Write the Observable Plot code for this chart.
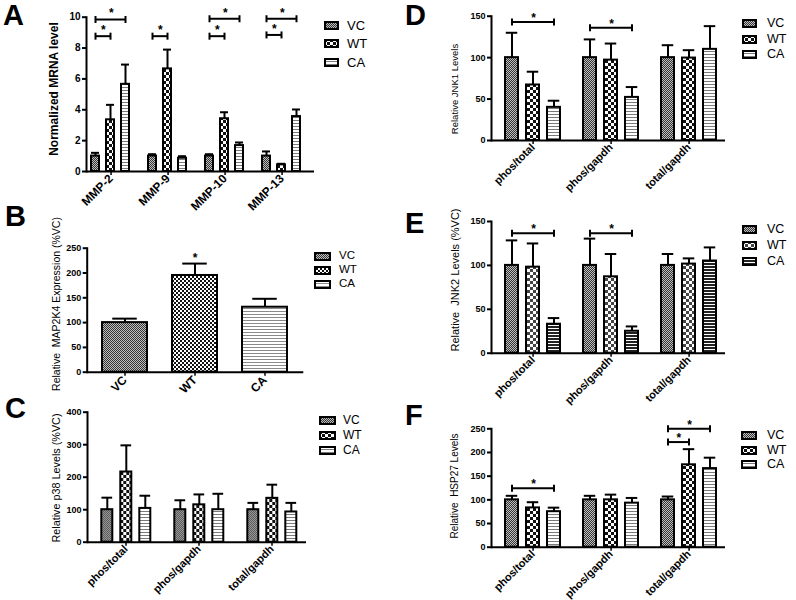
<!DOCTYPE html>
<html><head><meta charset="utf-8">
<script src="https://cdn.jsdelivr.net/npm/d3@7"></script>
<script src="https://cdn.jsdelivr.net/npm/@observablehq/plot@0.6"></script>
<style>
body{margin:0;background:#fff;}
#fig{position:relative;width:796px;height:600px;overflow:hidden;font-family:"Liberation Sans",Arial,sans-serif;color:#000;}
.panel{position:absolute;}
.letter{position:absolute;font-weight:bold;font-size:29px;line-height:1;}
.ytitle{position:absolute;white-space:pre;line-height:1;transform:translate(-50%,-50%) rotate(-90deg);}
.ltext{position:absolute;line-height:1;transform:translateY(-50%);white-space:nowrap;}
</style></head>
<body>
<svg width="0" height="0" style="position:absolute">
<defs>
<pattern id="pVC" width="2" height="2" patternUnits="userSpaceOnUse"><rect width="2" height="2" fill="#c0c0c0"/><rect width="1" height="1" fill="#333"/><rect x="1" y="1" width="1" height="1" fill="#333"/></pattern>
<pattern id="pWT" width="6" height="6" patternUnits="userSpaceOnUse"><rect width="6" height="6" fill="#fff"/><rect width="3" height="3" fill="#111"/><rect x="3" y="3" width="3" height="3" fill="#111"/></pattern>
<pattern id="pCA" width="3" height="3" patternUnits="userSpaceOnUse"><rect width="3" height="3" fill="#fff"/><rect width="3" height="1" fill="#7a7a7a"/></pattern>
<pattern id="pWTb" width="4" height="4" patternUnits="userSpaceOnUse"><rect width="4" height="4" fill="#fff"/><rect width="2" height="2" fill="#111"/><rect x="2" y="2" width="2" height="2" fill="#111"/></pattern>
<pattern id="pCAb" width="3" height="3" patternUnits="userSpaceOnUse"><rect width="3" height="3" fill="#fff"/><rect width="3" height="1" fill="#8a8a8a"/></pattern>
<pattern id="pWTe" width="6" height="6" patternUnits="userSpaceOnUse"><rect width="6" height="6" fill="#fff"/><rect width="3" height="3" fill="#444"/><rect x="3" y="3" width="3" height="3" fill="#444"/></pattern>
<pattern id="pCAe" width="3" height="3" patternUnits="userSpaceOnUse"><rect width="3" height="3" fill="#fff"/><rect width="3" height="2" fill="#222"/></pattern>
</defs></svg>
<div id="fig"></div>
<script>
const series = ["VC", "WT", "CA"];

// ---- Panel A: MMP mRNA ----
const A_groups = ["MMP-2", "MMP-9", "MMP-10", "MMP-13"];
const A_VC = [1.0, 1.0, 1.0, 1.0];
const A_WT = [3.35, 6.65, 3.42, 0.43];
const A_CA = [5.65, 0.86, 1.68, 3.56];
const A_VC_sem = [0.21, 0.12, 0.12, 0.30];
const A_WT_sem = [0.97, 1.25, 0.42, 0.07];
const A_CA_sem = [1.28, 0.13, 0.20, 0.46];
const A_sig_group = ["MMP-2", "MMP-2", "MMP-9", "MMP-10", "MMP-10", "MMP-13", "MMP-13"];
const A_sig_from = ["VC", "VC", "VC", "VC", "VC", "VC", "VC"];
const A_sig_to = ["CA", "WT", "WT", "CA", "WT", "CA", "WT"];
const A_sig_y = [9.85, 8.77, 8.77, 9.9, 8.77, 9.9, 8.85];
const A_yticks = [0, 2, 4, 6, 8, 10];

// ---- Panel B: MAP2K4 ----
const B_values = [100, 195, 131];   // VC, WT, CA
const B_sem = [8, 24, 17];
const B_sig_series = ["WT"];
const B_yticks = [0, 50, 100, 150, 200, 250];

// ---- Panel C: p38 ----
const C_groups = ["phos/total", "phos/gapdh", "total/gapdh"];
const C_VC = [100, 100, 100];
const C_WT = [216, 115, 135];
const C_CA = [104, 100, 93];
const C_VC_sem = [37, 29, 21];
const C_WT_sem = [82, 32, 42];
const C_CA_sem = [39, 49, 28];
const C_yticks = [0, 100, 200, 300, 400];

// ---- Panel D: JNK1 ----
const D_groups = ["phos/total", "phos/gapdh", "total/gapdh"];
const D_VC = [100, 100, 100];
const D_WT = [67, 97, 99.5];
const D_CA = [40, 52, 110];
const D_VC_sem = [30, 22, 15];
const D_WT_sem = [16, 20, 9.5];
const D_CA_sem = [8, 12.5, 28];
const D_sig_group = ["phos/total", "phos/gapdh"];
const D_sig_from = ["VC", "VC"];
const D_sig_to = ["CA", "CA"];
const D_sig_y = [143, 136];
const D_yticks = [0, 50, 100, 150];

// ---- Panel E: JNK2 ----
const E_groups = ["phos/total", "phos/gapdh", "total/gapdh"];
const E_VC = [100, 100, 100];
const E_WT = [98, 87, 101.5];
const E_CA = [33, 25, 105];
const E_VC_sem = [28.5, 30.5, 13];
const E_WT_sem = [27, 26, 6.5];
const E_CA_sem = [7, 5.5, 15.5];
const E_sig_group = ["phos/total", "phos/gapdh"];
const E_sig_from = ["VC", "VC"];
const E_sig_to = ["CA", "CA"];
const E_sig_y = [136.7, 136.7];
const E_yticks = [0, 50, 100, 150];

// ---- Panel F: HSP27 ----
const F_groups = ["phos/total", "phos/gapdh", "total/gapdh"];
const F_VC = [100, 100, 100];
const F_WT = [83, 100, 174];
const F_CA = [75, 93, 166];
const F_VC_sem = [8.5, 8.5, 7];
const F_WT_sem = [12, 11, 33];
const F_CA_sem = [8.5, 11, 23];
const F_sig_group = ["phos/total", "total/gapdh", "total/gapdh"];
const F_sig_from = ["VC", "VC", "VC"];
const F_sig_to = ["CA", "CA", "WT"];
const F_sig_y = [124.6, 250, 222];
const F_yticks = [0, 50, 100, 150, 200, 250];

// ---------- helpers ----------
function makeRows(groups, VC, WT, CA, VCs, WTs, CAs) {
  const v = {VC, WT, CA}, s = {VC: VCs, WT: WTs, CA: CAs};
  return groups.flatMap((g, i) => series.map(k => ({group: g, series: k, value: v[k][i], sem: s[k][i]})));
}
function makeSig(groups, from, to, y) {
  return groups.map((g, i) => ({group: g, from: from[i], to: to[i], y: y[i]}));
}
const vTick = {draw(ctx, size) { const r = Math.sqrt(size / Math.PI); ctx.moveTo(0, -r); ctx.lineTo(0, r); }};
const fig = document.getElementById("fig");

function panel(cfg) {
  const {rows, groups, sig, left, top, width, height, x0, x1, y0px, y1px, ymax, yticks,
         barRect, step, firstCenter, capW, fs, xfs, starDy, starFs, pats} = cfg;
  const nG = groups ? groups.length : 1;
  const fw = (x1 - x0) / nG;
  const n = series.length;
  const pI = 1 - barRect / step;
  const pO = (fw / step - (n - pI)) / 2;
  const leftover = fw - step * (n - pI);
  const align = (firstCenter - barRect / 2) / leftover;
  const tickDx = firstCenter + step - fw / 2;
  const capInset = Math.max(0, (barRect - capW) / 2);
  const fxo = groups ? {fx: "group"} : {};
  const marks = [];
  for (const s of series) {
    marks.push(Plot.barY(rows.filter(d => d.series === s), {...fxo, x: "series", y: "value",
      fill: `url(#${pats[s]})`, stroke: "black", strokeWidth: 2}));
  }
  marks.push(Plot.ruleX(rows, {...fxo, x: "series", y1: "value", y2: d => d.value + d.sem, stroke: "black", strokeWidth: 2}));
  marks.push(Plot.tickY(rows, {...fxo, x: "series", y: d => d.value + d.sem, stroke: "black", strokeWidth: 2,
    insetLeft: capInset, insetRight: capInset}));
  if (sig && sig.length) {
    marks.push(Plot.link(sig, {...fxo, x1: "from", x2: "to", y1: "y", y2: "y", stroke: "black", strokeWidth: 2}));
    const ends = sig.flatMap(d => [{group: d.group, series: d.from, y: d.y}, {group: d.group, series: d.to, y: d.y}]);
    marks.push(Plot.dot(ends, {...fxo, x: "series", y: "y", symbol: vTick, r: 3.5, stroke: "black", strokeWidth: 2, fill: "none"}));
    for (const span of [1, 2]) {
      const sub = sig.filter(d => series.indexOf(d.to) - series.indexOf(d.from) === span);
      if (sub.length) marks.push(Plot.text(sub, {...fxo, x: "from", y: "y", text: () => "*",
        dx: span * step / 2, dy: starDy, fontSize: starFs, fontWeight: "bold"}));
    }
  }
  if (cfg.starSeries) {
    const sub = rows.filter(d => cfg.starSeries.includes(d.series));
    marks.push(Plot.text(sub, {x: "series", y: d => d.value + d.sem, text: () => "*", dy: starDy, fontSize: starFs, fontWeight: "bold"}));
  }
  marks.push(Plot.ruleY([0], {stroke: "black", strokeWidth: 2}));
  marks.push(Plot.frame(groups ? {anchor: "left", stroke: "black", strokeWidth: 2, facetAnchor: "left"} : {anchor: "left", stroke: "black", strokeWidth: 2}));
  marks.push(Plot.axisY({ticks: yticks, tickSize: 4, tickPadding: 2, strokeWidth: 2, fontWeight: "bold", fontSize: fs, label: null}));
  if (groups) {
    marks.push(Plot.axisFx({anchor: "bottom", tickRotate: -45, tickSize: 4, tickPadding: 1, strokeWidth: 1.5, dx: tickDx,
      label: null, fontWeight: "bold", fontSize: xfs}));
  } else {
    marks.push(Plot.axisX({anchor: "bottom", tickRotate: -45, tickSize: 4, tickPadding: 2, strokeWidth: 1.5,
      label: null, fontWeight: "bold", fontSize: xfs}));
  }
  const opts = {
    width, height,
    marginLeft: x0 - left, marginRight: left + width - x1,
    marginTop: y1px - top, marginBottom: top + height - y0px,
    x: {domain: series, paddingInner: pI, paddingOuter: pO, align, axis: groups ? null : undefined},
    y: {domain: [0, ymax]},
    style: {background: "transparent", fontFamily: "'Liberation Sans', Arial, sans-serif", fontSize: fs + "px", color: "black", overflow: "visible"},
    marks
  };
  if (groups) {
    opts.fx = {domain: groups, padding: 0};
    opts.facet = {marginTop: 0, marginBottom: 0, marginLeft: 0, marginRight: 0};
  }
  const node = Plot.plot(opts);
  const d = document.createElement("div");
  d.className = "panel";
  d.style.left = left + "px"; d.style.top = top + "px"; d.style.width = width + "px"; d.style.height = height + "px";
  d.appendChild(node);
  fig.appendChild(d);
}

function legend(left, rowsY, sw, sh, textLeft, fs, pats) {
  series.forEach((s, i) => {
    const svg = d3.create("svg").attr("width", sw + 2).attr("height", sh + 2)
      .style("position", "absolute").style("left", (left - 1) + "px").style("top", (rowsY[i] - sh / 2 - 1) + "px");
    svg.append("rect").attr("x", 1).attr("y", 1).attr("width", sw).attr("height", sh)
      .attr("fill", `url(#${pats[s]})`).attr("stroke", "black").attr("stroke-width", 2);
    fig.appendChild(svg.node());
    const t = document.createElement("div");
    t.className = "ltext"; t.textContent = s;
    t.style.left = textLeft + "px"; t.style.top = rowsY[i] + "px"; t.style.fontSize = fs + "px";
    fig.appendChild(t);
  });
}
function letter(ch, left, top) {
  const d = document.createElement("div"); d.className = "letter"; d.textContent = ch;
  d.style.left = left + "px"; d.style.top = Math.max(1, top - 4) + "px"; fig.appendChild(d);
}
function ytitle(txt, cx, cy, fs, bold) {
  const d = document.createElement("div"); d.className = "ytitle"; d.textContent = txt;
  d.style.left = cx + "px"; d.style.top = cy + "px"; d.style.fontSize = fs + "px";
  if (bold) d.style.fontWeight = "bold";
  fig.appendChild(d);
}

const patStd = {VC: "pVC", WT: "pWT", CA: "pCA"};

// A
panel({rows: makeRows(A_groups, A_VC, A_WT, A_CA, A_VC_sem, A_WT_sem, A_CA_sem), groups: A_groups,
  sig: makeSig(A_sig_group, A_sig_from, A_sig_to, A_sig_y),
  left: 0, top: 0, width: 320, height: 210, x0: 85, x1: 314, y0px: 171, y1px: 16.7, ymax: 10, yticks: A_yticks,
  barRect: 9, step: 15.9, firstCenter: 8.8, capW: 10, fs: 10, xfs: 12, starDy: -6, starFs: 12, pats: patStd});
// B
panel({rows: series.map((s, i) => ({series: s, value: B_values[i], sem: B_sem[i]})), groups: null, starSeries: B_sig_series,
  left: 0, top: 200, width: 320, height: 200, x0: 86.7, x1: 303.3, y0px: 371.7, y1px: 247.7, ymax: 250, yticks: B_yticks,
  barRect: 45.5, step: 70.9, firstCenter: 37, capW: 25, fs: 9, xfs: 12, starDy: -5, starFs: 12, pats: {VC: "pVC", WT: "pWTb", CA: "pCAb"}});
// C
panel({rows: makeRows(C_groups, C_VC, C_WT, C_CA, C_VC_sem, C_WT_sem, C_CA_sem), groups: C_groups, sig: [],
  left: 0, top: 400, width: 320, height: 200, x0: 86.7, x1: 305.7, y0px: 541.7, y1px: 411.7, ymax: 400, yticks: C_yticks,
  barRect: 11.3, step: 19.5, firstCenter: 19, capW: 11, fs: 9, xfs: 11, starDy: -5, starFs: 12, pats: patStd});
// D
panel({rows: makeRows(D_groups, D_VC, D_WT, D_CA, D_VC_sem, D_WT_sem, D_CA_sem), groups: D_groups,
  sig: makeSig(D_sig_group, D_sig_from, D_sig_to, D_sig_y),
  left: 400, top: 0, width: 330, height: 200, x0: 490, x1: 726.5, y0px: 140, y1px: 15.7, ymax: 150, yticks: D_yticks,
  barRect: 13.5, step: 21.5, firstCenter: 20.5, capW: 12, fs: 9, xfs: 11, starDy: -4, starFs: 12, pats: patStd});
// E
panel({rows: makeRows(E_groups, E_VC, E_WT, E_CA, E_VC_sem, E_WT_sem, E_CA_sem), groups: E_groups,
  sig: makeSig(E_sig_group, E_sig_from, E_sig_to, E_sig_y),
  left: 400, top: 200, width: 330, height: 200, x0: 490, x1: 726.5, y0px: 352.7, y1px: 221, ymax: 150, yticks: E_yticks,
  barRect: 13.5, step: 21.5, firstCenter: 20.5, capW: 12, fs: 9, xfs: 11, starDy: -4, starFs: 12, pats: {VC: "pVC", WT: "pWTe", CA: "pCAe"}});
// F
panel({rows: makeRows(F_groups, F_VC, F_WT, F_CA, F_VC_sem, F_WT_sem, F_CA_sem), groups: F_groups,
  sig: makeSig(F_sig_group, F_sig_from, F_sig_to, F_sig_y),
  left: 400, top: 400, width: 330, height: 200, x0: 490, x1: 726.5, y0px: 546.7, y1px: 428.3, ymax: 250, yticks: F_yticks,
  barRect: 13.5, step: 21.5, firstCenter: 20.5, capW: 12, fs: 9, xfs: 11, starDy: -4, starFs: 12, pats: patStd});

// legends
legend(325, [25, 43, 62], 13, 7, 347, 13, patStd);
legend(315, [256, 270, 284], 15, 7, 339, 11.5, {VC: "pVC", WT: "pWTb", CA: "pCAb"});
legend(320, [420, 435, 450], 15, 7, 343, 12, patStd);
legend(743, [23, 39, 54], 13, 7, 767, 12.5, patStd);
legend(743, [229, 245, 261], 13, 7, 767, 12.5, {VC: "pVC", WT: "pWTe", CA: "pCAe"});
legend(742, [435, 450, 464], 14, 7, 767, 12.5, patStd);

// y titles
ytitle("Normalized MRNA level", 54, 89, 12, true);
ytitle("Relative  MAP2K4 Expression (%VC)", 56, 304, 10.5, false);
ytitle("Relative p38 Levels (%VC)", 56, 478, 10.8, false);
ytitle("Relative JNK1 Levels", 455, 89, 9.5, false);
ytitle("Relative  JNK2 Levels (%VC)", 455, 280, 11, false);
ytitle("Relative  HSP27 Levels", 455, 486, 10, false);

// panel letters
letter("A", 3, 4); letter("B", 5, 206); letter("C", 5, 398);
letter("D", 405, 5); letter("E", 405, 213); letter("F", 405, 405);
</script>
</body></html>
